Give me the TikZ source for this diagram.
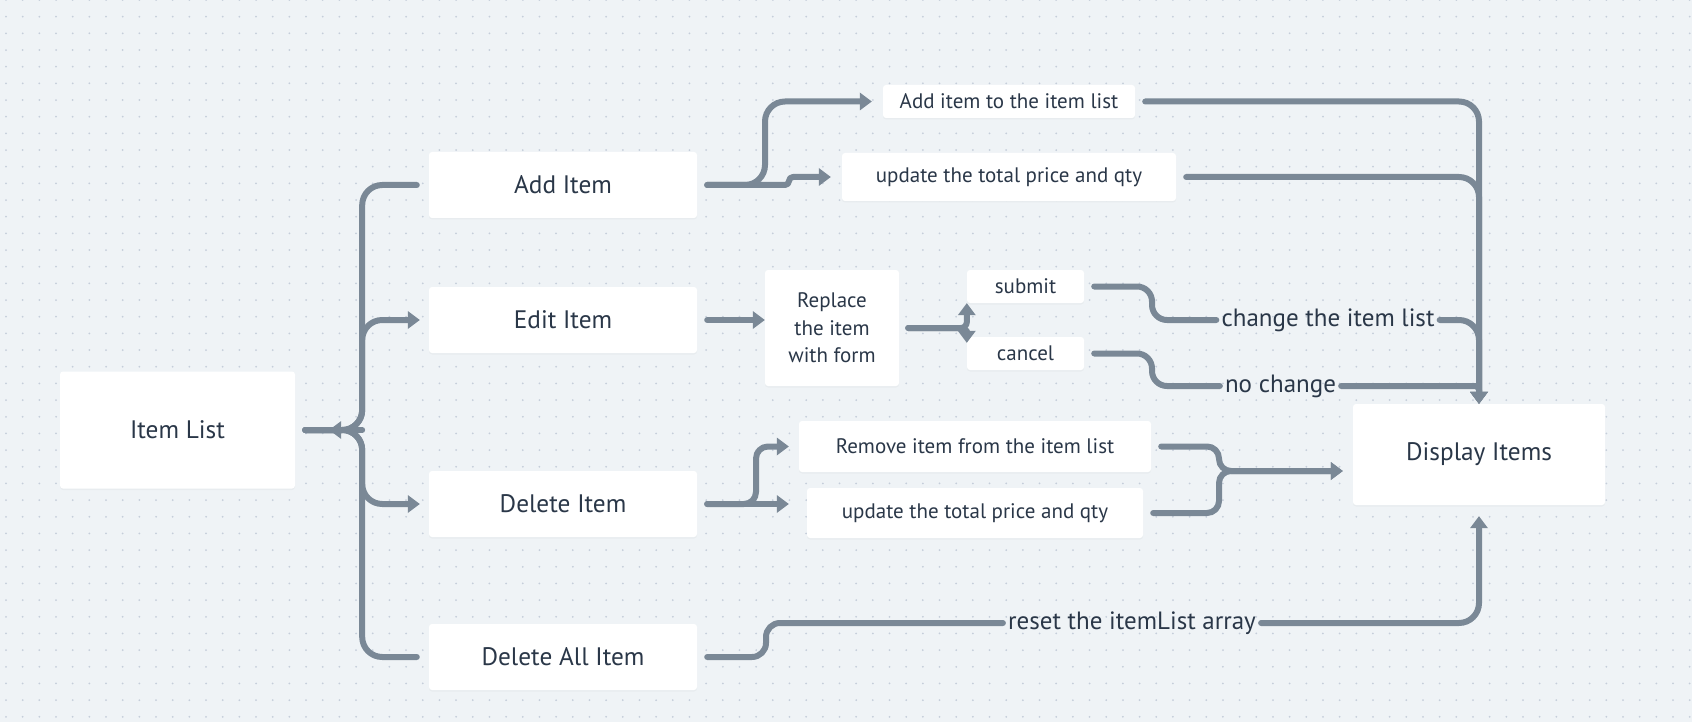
\documentclass[tikz,border=0pt]{standalone}
\usepackage{fontspec}
\setmainfont{PT Sans}
\usetikzlibrary{arrows.meta,shadows,calc}
\definecolor{bg}{HTML}{EFF3F6}
\definecolor{dotc}{HTML}{C5CEDA}
\definecolor{lc}{HTML}{7A8896}
\definecolor{tc}{HTML}{2A3748}
\tikzset{
 box/.style={draw=none, fill=white, rounded corners=3pt, inner sep=0pt, text=tc, align=center,
   drop shadow={shadow xshift=0pt,shadow yshift=-1.5pt,opacity=0.06}},
 conn/.style={draw=lc, line width=6pt, line cap=round, line join=round, rounded corners=20pt},
 arr/.style={-{Triangle[length=12pt,width=18pt,line width=0pt]}},
 lbl/.style={text=tc, inner sep=5pt, font=\fontsize{25}{28}\selectfont},
 big/.style={font=\fontsize{25.3}{29}\selectfont},
 mid/.style={font=\fontsize{21}{27.5}\selectfont},
}
\begin{document}
\begin{tikzpicture}[x=1pt,y=-1pt]
\useasboundingbox (0,0) rectangle (1692,722);
\fill[bg] (0,0) rectangle (1692,722);
\foreach \i in {0,...,101} {
  \foreach \j in {0,...,43} {
    \fill[dotc] (6+\i*16.67, \j*16.67) circle (1pt);
  }
}
% nodes
\node[box,big,minimum width=235pt,minimum height=117pt] (list) at (177.5,430) {Item List};
\node[box,big,minimum width=268pt,minimum height=66pt] (add) at (563,185) {Add Item};
\node[box,big,minimum width=268pt,minimum height=66pt] (edit) at (563,320) {Edit Item};
\node[box,big,minimum width=268pt,minimum height=66pt] (del) at (563,504) {Delete Item};
\node[box,big,minimum width=268pt,minimum height=66pt] (delall) at (563,657) {Delete All Item};
\node[box,mid,minimum width=252pt,minimum height=33pt] (addlist) at (1009,101.5) {Add item to the item list};
\node[box,mid,minimum width=334pt,minimum height=48pt] (addupd) at (1009,177) {update the total price and qty};
\node[box,mid,minimum width=134pt,minimum height=116pt] (replace) at (832,328) {Replace\\the item\\with form};
\node[box,mid,minimum width=117pt,minimum height=33pt] (submit) at (1025.5,286.5) {submit};
\node[box,mid,minimum width=117pt,minimum height=33pt] (cancel) at (1025.5,353.5) {cancel};
\node[box,mid,minimum width=352pt,minimum height=51pt] (remove) at (975,446.5) {Remove item from the item list};
\node[box,mid,minimum width=336pt,minimum height=50pt] (delupd) at (975,513) {update the total price and qty};
\node[box,big,minimum width=252pt,minimum height=101pt] (display) at (1479,454.5) {Display Items};
\node[lbl] (lchange) at (1328,320) {change the item list};
\node[lbl] (lnochange) at (1280.5,386) {no change};
\node[lbl] (lreset) at (1132,623) {reset the itemList array};
% item list fan
\coordinate (j0) at ([xshift=67pt]list.east);
\draw[conn] ([xshift=10pt]list.east) -- (j0) |- ([xshift=-12pt]add.west);
\draw[conn,arr] ([xshift=10pt]list.east) -- (j0) |- ([xshift=-9pt]edit.west);
\draw[conn,arr] ([xshift=10pt]list.east) -- (j0) |- ([xshift=-9pt]del.west);
\draw[conn] ([xshift=10pt]list.east) -- (j0) |- ([xshift=-12pt]delall.west);
\draw[conn,arr,rounded corners=0pt] (j0) -- ([xshift=34pt]list.east);
% add item
\draw[conn,arr] ([xshift=10pt]add.east) -- (765,185) |- ([xshift=-11pt]addlist.west);
\draw[conn,arr,rounded corners=4pt] ([xshift=10pt]add.east) -- (789,185) -- (789,177) -- ([xshift=-11pt]addupd.west);
\draw[conn,arr] ([xshift=10pt]addlist.east) -| (display.north);
\draw[conn,arr] ([xshift=10pt]addupd.east) -| (display.north);
% edit item
\draw[conn,arr] ([xshift=10pt]edit.east) -- (edit.east -| replace.west);
\draw[conn,arr,rounded corners=6pt] ([xshift=9pt]replace.east) -| (submit.south west);
\draw[conn,arr,rounded corners=6pt] ([xshift=9pt]replace.east) -| ([yshift=-6pt]cancel.north west);
\draw[conn,rounded corners=15pt] ([xshift=10pt]submit.east) -- (1152,286.5) |- (lchange.west);
\draw[conn,arr] (lchange.east) -| (display.north);
\draw[conn,rounded corners=15pt] ([xshift=10pt]cancel.east) -- (1152,353.5) |- (lnochange.west);
\draw[conn,arr,rounded corners=4pt] (lnochange.east) -| (display.north);
% delete item
\draw[conn,arr,rounded corners=12pt] ([xshift=10pt]del.east) -- (756,504) |- ([xshift=-10pt]remove.west);
\draw[conn,arr] ([xshift=10pt]del.east) -- ([xshift=-18pt]delupd.west |- del.east);
\draw[conn,arr,rounded corners=12pt] ([xshift=10pt]remove.east) -- (1219,446.5) |- ([xshift=-10pt,yshift=-16.5pt]display.west);
\draw[conn,arr,rounded corners=12pt] ([xshift=10pt]delupd.east) -- (1219,513) |- ([xshift=-10pt,yshift=-16.5pt]display.west);
% delete all
\draw[conn,rounded corners=14pt] ([xshift=10pt]delall.east) -- (766,657) |- (lreset.west);
\draw[conn,arr] (lreset.east) -| ([yshift=-11pt]display.south);
\end{tikzpicture}
\end{document}
